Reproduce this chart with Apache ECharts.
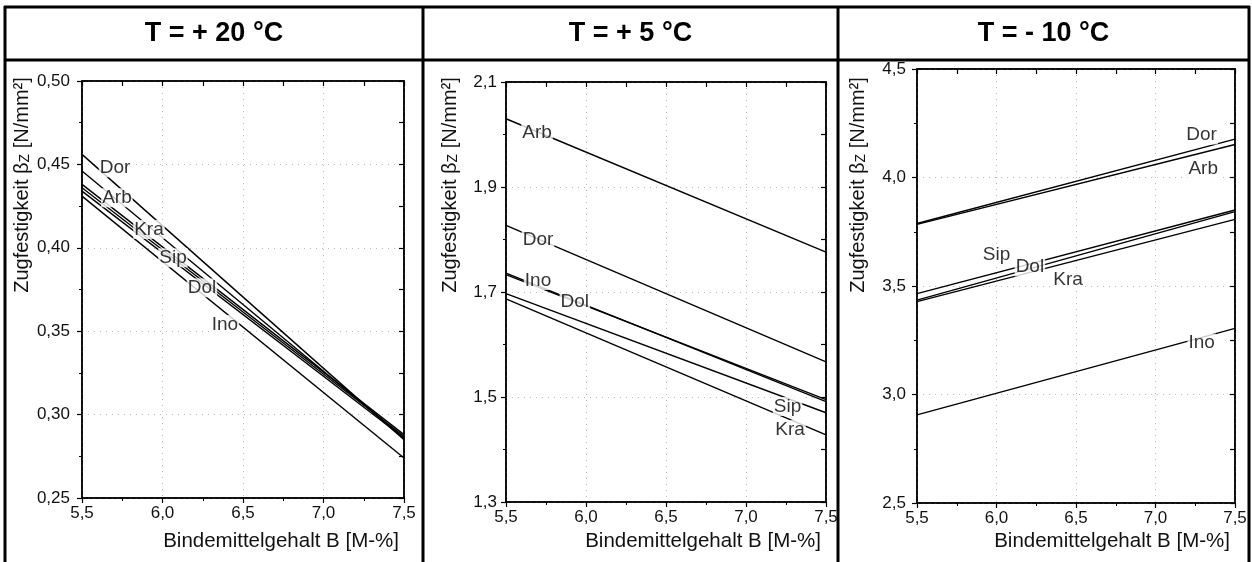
<!DOCTYPE html>
<html>
<head>
<meta charset="utf-8">
<script src="https://cdn.jsdelivr.net/npm/echarts@6/dist/echarts.min.js"></script>
<style>
html,body{margin:0;padding:0;background:#fff;}
#chart{width:1252px;height:562px;}
</style>
</head>
<body>
<div id="chart"></div>
<script>
// ---- data ----
const xValues = [5.5, 7.5];
const seriesNames = ['Dor', 'Arb', 'Kra', 'Sip', 'Dol', 'Ino'];
const panelTitles = ['T = + 20 °C', 'T = + 5 °C', 'T = - 10 °C'];
const xTickLabels = ['5,5', '6,0', '6,5', '7,0', '7,5'];
const yTicksT20 = ['0,25', '0,30', '0,35', '0,40', '0,45', '0,50'];
const yTicksT5 = ['1,3', '1,5', '1,7', '1,9', '2,1'];
const yTicksTm10 = ['2,5', '3,0', '3,5', '4,0', '4,5'];

// values at B = 5.5 and B = 7.5 (order: Dor, Arb, Kra, Sip, Dol, Ino)
const t20Start = [0.456, 0.446, 0.438, 0.436, 0.434, 0.431];
const t20End   = [0.285, 0.286, 0.288, 0.287, 0.286, 0.274];
const t5Start  = [1.827, 2.030, 1.687, 1.697, 1.733, 1.736];
const t5End    = [1.567, 1.776, 1.428, 1.470, 1.495, 1.491];
const tm10Start = [3.788, 3.784, 3.428, 3.465, 3.435, 2.906];
const tm10End   = [4.177, 4.152, 3.807, 3.850, 3.843, 3.305];

// inline label anchors (data coordinates)
const t20LabelX = [5.705, 5.717, 5.916, 6.065, 6.245, 6.388];
const t20LabelY = [0.448, 0.430, 0.411, 0.394, 0.376, 0.354];
const t5LabelX  = [5.70, 5.694, 7.275, 7.26, 5.93, 5.70];
const t5LabelY  = [1.799, 2.004, 1.438, 1.482, 1.681, 1.722];
const tm10LabelX = [7.29, 7.30, 6.45, 6.00, 6.21, 7.29];
const tm10LabelY = [4.196, 4.039, 3.528, 3.643, 3.588, 3.237];

// ---- layout ----
const FONT = '"Liberation Sans", Arial, Helvetica, sans-serif';
const panels = [
  {grid:{left:82, top:81, width:322, height:417}, yMin:0.25, yMax:0.50, yInt:0.05, yLabels:yTicksT20, yMargin:12,
   start:t20Start, end:t20End, lx:t20LabelX, ly:t20LabelY, colX:5, colW:418, yNameX:22},
  {grid:{left:506, top:82, width:320, height:420}, yMin:1.3, yMax:2.1, yInt:0.2, yLabels:yTicksT5, yMargin:9,
   start:t5Start, end:t5End, lx:t5LabelX, ly:t5LabelY, colX:423, colW:415, yNameX:450},
  {grid:{left:917, top:69, width:318, height:434}, yMin:2.5, yMax:4.5, yInt:0.5, yLabels:yTicksTm10, yMargin:11,
   start:tm10Start, end:tm10End, lx:tm10LabelX, ly:tm10LabelY, colX:838, colW:411, yNameX:858}
];

const grids = [], xAxes = [], yAxes = [], series = [], graphics = [];

panels.forEach((p, i) => {
  grids.push(Object.assign({show:true, borderColor:'#000', borderWidth:1.5, backgroundColor:'transparent'}, p.grid));
  const xi = xAxes.length, yi = yAxes.length;
  // main bottom x axis
  xAxes.push({
    type:'value', gridIndex:i, position:'bottom', min:5.5, max:7.5, interval:0.5,
    axisLine:{show:true, onZero:false, lineStyle:{color:'#000', width:1.5}},
    axisTick:{show:true, length:5, lineStyle:{color:'#000', width:1.2}},
    minorTick:{show:true, splitNumber:2, length:3, lineStyle:{color:'#000'}},
    axisLabel:{margin:7, color:'#111', fontSize:17, fontFamily:FONT,
      formatter:(v) => xTickLabels[Math.round((v - 5.5) / 0.5)]},
    splitLine:{show:true, lineStyle:{color:'#b8b8b8', type:[1,5], width:1}}
  });
  // top x axis (frame ticks)
  xAxes.push({
    type:'value', gridIndex:i, position:'top', min:5.5, max:7.5, interval:0.25,
    axisLine:{show:true, onZero:false, lineStyle:{color:'#000', width:1.5}},
    axisTick:{show:true, inside:true, length:5, lineStyle:{color:'#000', width:1.2}},
    axisLabel:{show:false}, splitLine:{show:false}
  });
  // main left y axis
  yAxes.push({
    type:'value', gridIndex:i, position:'left', min:p.yMin, max:p.yMax, interval:p.yInt,
    axisLine:{show:true, onZero:false, lineStyle:{color:'#000', width:1.5}},
    axisTick:{show:true, length:5, lineStyle:{color:'#000', width:1.2}},
    minorTick:{show:true, splitNumber:2, length:3, lineStyle:{color:'#000'}},
    axisLabel:{margin:p.yMargin, color:'#111', fontSize:17, fontFamily:FONT,
      formatter:(v) => p.yLabels[Math.round((v - p.yMin) / p.yInt)]},
    splitLine:{show:true, lineStyle:{color:'#b8b8b8', type:[1,5], width:1}}
  });
  // right y axis (frame ticks)
  yAxes.push({
    type:'value', gridIndex:i, position:'right', min:p.yMin, max:p.yMax, interval:p.yInt / 2,
    axisLine:{show:true, onZero:false, lineStyle:{color:'#000', width:1.5}},
    axisTick:{show:true, inside:true, length:5, lineStyle:{color:'#000', width:1.2}},
    axisLabel:{show:false}, splitLine:{show:false}
  });

  seriesNames.forEach((name, k) => {
    series.push({
      type:'line', name:name, xAxisIndex:xi, yAxisIndex:yi, z:2,
      data:[[xValues[0], p.start[k]], [xValues[1], p.end[k]]],
      symbol:'none', silent:true, animation:false,
      lineStyle:{color:'#000', width:1.4}
    });
  });
  series.push({
    type:'scatter', xAxisIndex:xi, yAxisIndex:yi, z:5, symbolSize:1, silent:true, animation:false,
    itemStyle:{color:'transparent'},
    data: seriesNames.map((n, k) => ({value:[p.lx[k], p.ly[k]], name:n})),
    label:{show:true, position:'inside', formatter:(d) => d.name, color:'#000', fontSize:19,
      fontFamily:FONT, backgroundColor:'#fff', padding:[0,1,0,1]}
  });

  // title
  graphics.push({type:'text', x:p.colX + p.colW / 2, y:34, z:10,
    style:{text:panelTitles[i], font:'bold 27px ' + FONT, fill:'#000', textAlign:'center', textVerticalAlign:'middle'}});
  // x axis name
  graphics.push({type:'text', x:p.grid.left + p.grid.width - 5, y:541, z:10,
    style:{text:'Bindemittelgehalt B [M-%]', font:'20.5px ' + FONT, fill:'#111', textAlign:'right', textVerticalAlign:'middle'}});
  // y axis name
  graphics.push({type:'text', x:p.yNameX, y:185, rotation:Math.PI / 2, z:10,
    style:{text:'Zugfestigkeit β{s|Z} [N/mm²]', font:'20px ' + FONT, fill:'#111',
      textAlign:'center', textVerticalAlign:'middle',
      rich:{s:{fontSize:14, fontFamily:FONT, fill:'#111', verticalAlign:'bottom', lineHeight:12}}}});
});

// table frame
const frameLines = [
  [4, 7, 1250, 7], [4, 60, 1250, 60],
  [5, 6, 5, 562], [423, 6, 423, 562], [838, 6, 838, 562], [1249, 6, 1249, 562]
];
frameLines.forEach(l => graphics.push({type:'line', z:20,
  shape:{x1:l[0], y1:l[1], x2:l[2], y2:l[3]}, style:{stroke:'#000', lineWidth:3}}));

const chart = echarts.init(document.getElementById('chart'), null, {renderer:'canvas'});
chart.setOption({
  animation:false,
  backgroundColor:'#fff',
  grid:grids, xAxis:xAxes, yAxis:yAxes, series:series, graphic:graphics
});
</script>
</body>
</html>
